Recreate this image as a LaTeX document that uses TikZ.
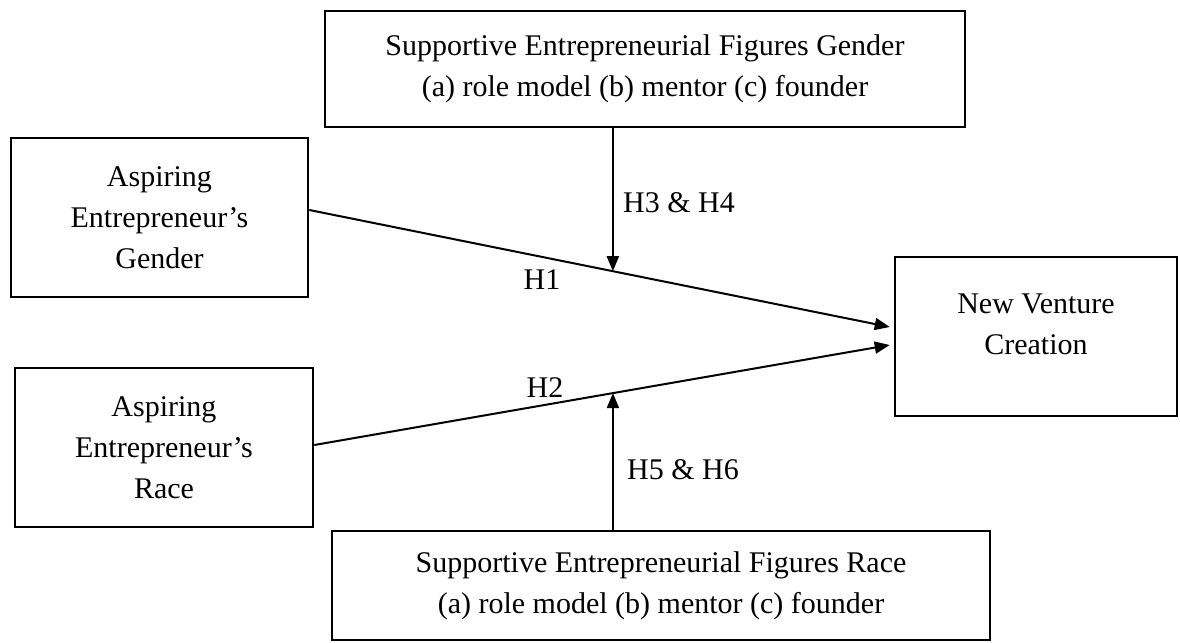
\documentclass[tikz,border=0pt]{standalone}
\usepackage{fontspec}
\setmainfont{Liberation Serif}
\usetikzlibrary{arrows.meta,calc}
\tikzset{
  box/.style={draw=black, line width=1.3pt, align=center, inner sep=0pt, font=\fontsize{15}{20.5}\selectfont},
  arrow/.style={-{Triangle[length=7.5pt,width=6pt]}, line width=1pt},
  lbl/.style={font=\fontsize{15}{18}\selectfont, inner sep=0pt}
}
\begin{document}
\begin{tikzpicture}[x=0.5pt, y=-0.5pt]
\useasboundingbox (0,0) rectangle (1180,643);
% ---- boxes ----
\node[box, minimum width=320pt, minimum height=58pt] (sefgender) at (645,69) {Supportive Entrepreneurial Figures Gender\\(a) role model (b) mentor (c) founder};
\node[box, minimum width=148.5pt, minimum height=79.5pt] (gender) at (159.5,217.5) {Aspiring\\Entrepreneur’s\\Gender};
\node[box, minimum width=149pt, minimum height=79.5pt] (race) at (164,447.5) {Aspiring\\Entrepreneur’s\\Race};
\node[box, minimum width=141pt, minimum height=79.5pt, text depth=12pt] (venture) at (1036,336.5) {New Venture\\Creation};
\node[box, minimum width=329pt, minimum height=54.5pt] (sefrace) at (661,585.5) {Supportive Entrepreneurial Figures Race\\(a) role model (b) mentor (c) founder};
% ---- paths ----
\coordinate (g1) at ($(gender.east)+(0,-7.5)$);
\coordinate (r1) at ($(race.east)+(0,-2.5)$);
\coordinate (v1) at ($(venture.west)+(-4,-9.5)$);
\coordinate (v2) at ($(venture.west)+(-4,8.5)$);
\draw[arrow] (g1) -- (v1) coordinate[pos=0.523] (m1);
\draw[arrow] (r1) -- (v2) coordinate[pos=0.519] (m2);
\draw[arrow] (m1 |- sefgender.south) -- (m1);
\draw[arrow] (m2 |- sefrace.north) -- (m2);
% ---- labels ----
\node[lbl] (h34) at (679,203) {H3 \& H4};
\node[lbl] (h1) at (542,280) {H1};
\node[lbl] (h2) at (545,388) {H2};
\node[lbl] (h56) at (683,470) {H5 \& H6};
\end{tikzpicture}
\end{document}
